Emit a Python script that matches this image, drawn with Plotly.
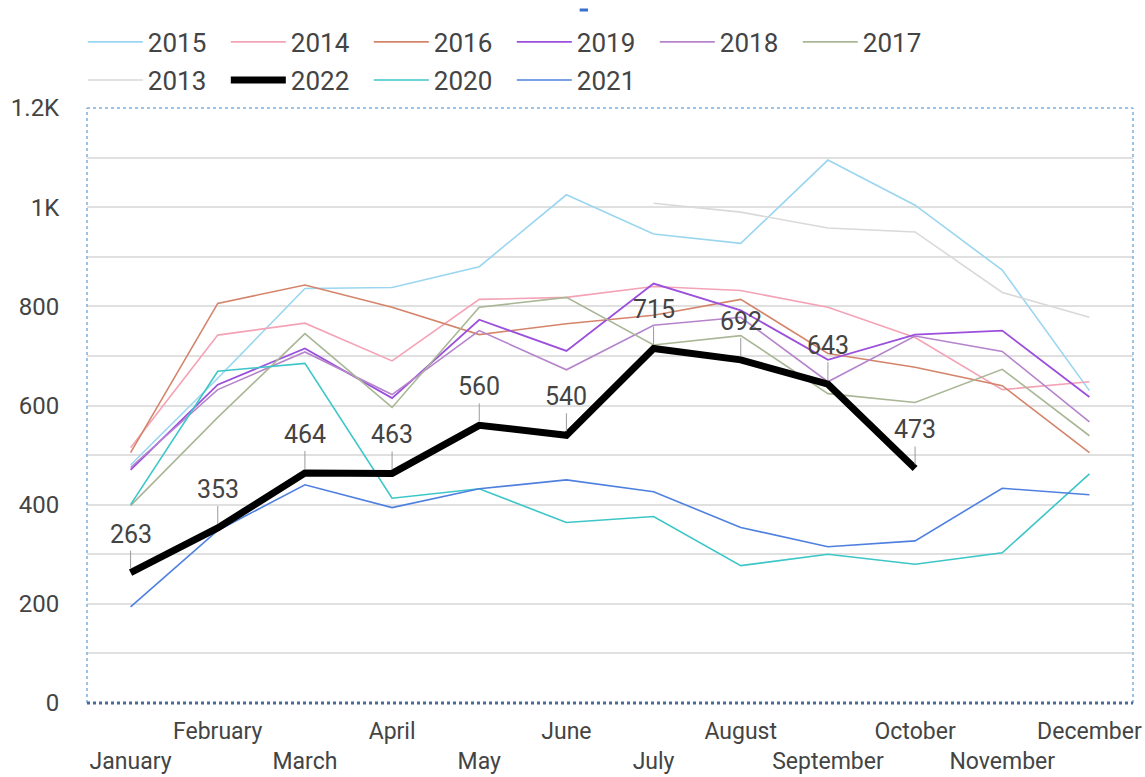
import plotly.graph_objects as go

months = ["January", "February", "March", "April", "May", "June", "July",
          "August", "September", "October", "November", "December"]

s2015 = [480, 655, 836, 838, 880, 1025, 946, 927, 1095, 1004, 873, 630]
s2014 = [515, 742, 766, 690, 814, 818, 840, 832, 798, 737, 632, 648]
s2016 = [505, 806, 843, 798, 743, 765, 782, 814, 705, 677, 640, 505]
s2019 = [470, 642, 715, 615, 773, 710, 846, 792, 692, 743, 751, 617]
s2018 = [475, 632, 708, 622, 751, 672, 762, 778, 648, 740, 709, 567]
s2017 = [398, 576, 745, 596, 798, 818, 722, 741, 624, 606, 673, 539]
s2013 = [None, None, None, None, None, None, 1008, 990, 958, 950, 828, 778]
s2022 = [263, 353, 464, 463, 560, 540, 715, 692, 643, 473, None, None]
s2020 = [400, 669, 685, 413, 432, 364, 376, 277, 300, 280, 303, 462]
s2021 = [194, 348, 440, 394, 432, 450, 426, 354, 315, 327, 433, 420]

y_tickvals = [0, 200, 400, 600, 800, 1000, 1200]
y_ticktext = ["0", "200", "400", "600", "800", "1K", "1.2K"]

# name, values, colour, width, legend row
series = [
    ("2015", s2015, "#9ad6f0", 1.6, "legend"),
    ("2014", s2014, "#f4a3b6", 1.6, "legend"),
    ("2016", s2016, "#d4846b", 1.6, "legend"),
    ("2019", s2019, "#9b4fdc", 1.8, "legend"),
    ("2018", s2018, "#b584cc", 1.6, "legend"),
    ("2017", s2017, "#a9b796", 1.6, "legend"),
    ("2013", s2013, "#d9d9d9", 1.6, "legend2"),
    ("2022", s2022, "#000000", 7, "legend2"),
    ("2020", s2020, "#3cc6c8", 1.6, "legend2"),
    ("2021", s2021, "#4f80e0", 1.6, "legend2"),
]
draw_order = [0, 1, 2, 3, 4, 5, 6, 8, 9, 7]

fig = go.Figure()
for idx in draw_order:
    name, vals, color, w, leg = series[idx]
    fig.add_trace(go.Scatter(
        x=months, y=vals, name=name, mode="lines",
        line=dict(color=color, width=w),
        legend=leg, legendrank=idx + 1, connectgaps=False,
    ))

# data labels for 2022
for m, v in zip(months, s2022):
    if v is None:
        continue
    fig.add_annotation(
        x=m, y=v, xref="x", yref="y", text=str(v),
        showarrow=True, arrowhead=0, arrowwidth=1, arrowcolor="#9a9a9a",
        ax=0, ay=-22, standoff=4,
        font=dict(family="Roboto", size=25, color="#444444"),
        yanchor="bottom",
    )

ticktext = [(("<br>" + m) if i % 2 == 0 else m) for i, m in enumerate(months)]

legend_common = dict(
    orientation="h", xanchor="left", yanchor="middle",
    font=dict(size=26, color="#444444"),
    entrywidth=73, entrywidthmode="pixels", itemwidth=55,
    traceorder="normal", bgcolor="rgba(0,0,0,0)",
)

fig.update_layout(
    width=1145, height=777,
    margin=dict(l=87, r=12, t=108, b=74, autoexpand=False),
    paper_bgcolor="white", plot_bgcolor="white",
    font=dict(family="Roboto", color="#444444"),
    showlegend=True,
    legend=dict(legend_common, x=-0.004, y=1.1109),
    legend2=dict(legend_common, x=-0.004, y=1.047),
    xaxis=dict(
        tickmode="array", tickvals=months, ticktext=ticktext,
        tickfont=dict(size=23, color="#444444"), tickangle=0,
        showgrid=False, zeroline=False, showline=False,
        ticks="outside", ticklen=7, tickcolor="rgba(0,0,0,0)",
        range=[-0.5, 11.5],
    ),
    yaxis=dict(
        range=[0, 1200], tickmode="array", tickvals=y_tickvals, ticktext=y_ticktext,
        tickfont=dict(size=24, color="#444444"),
        showgrid=True, gridcolor="#e0e0e0", gridwidth=2,
        minor=dict(tickmode="linear", dtick=100, showgrid=True,
                   gridcolor="#e0e0e0", gridwidth=2),
        zeroline=False, showline=False,
        ticks="outside", ticklen=22, tickcolor="rgba(0,0,0,0)",
    ),
    shapes=[
        dict(type="line", xref="paper", yref="paper", x0=0, x1=0, y0=0, y1=1,
             line=dict(color="#7fb0e0", width=1.5, dash="dot")),
        dict(type="line", xref="paper", yref="paper", x0=1, x1=1, y0=0, y1=1,
             line=dict(color="#7fb0e0", width=1.5, dash="dot")),
        dict(type="line", xref="paper", yref="paper", x0=0, x1=1, y0=1, y1=1,
             line=dict(color="#7fb0e0", width=1.5, dash="dot")),
        dict(type="line", xref="paper", yref="paper", x0=0, x1=1, y0=0, y1=0,
             line=dict(color="#4a6a9a", width=3, dash="dot")),
        dict(type="line", xref="paper", yref="paper", x0=0.471, x1=0.479,
             y0=1.1647, y1=1.1647, line=dict(color="#3a6fd0", width=3)),
    ],
)

fig.write_html("out.html", config={"displayModeBar": False},
               post_script="document.body.style.margin='0px';")
